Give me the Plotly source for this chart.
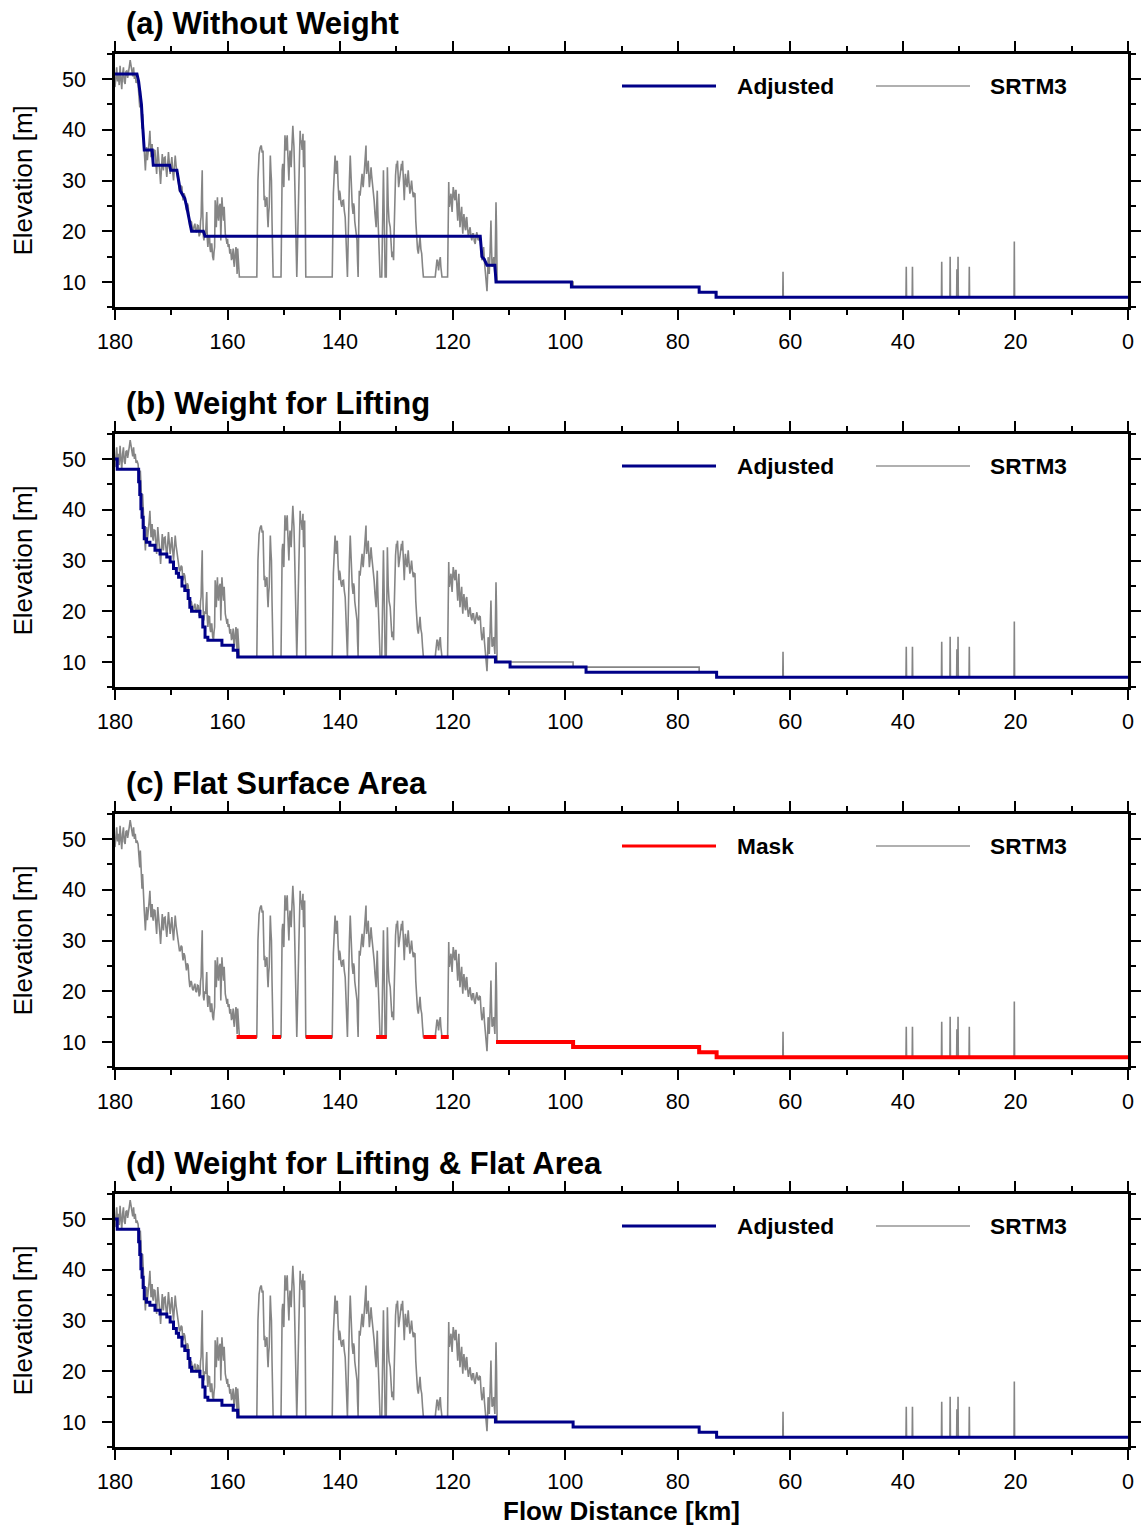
import plotly.graph_objects as go

# ---------------- data ----------------
srtm_km = [
    180.0, 179.85, 179.7, 179.55, 179.4, 179.25, 179.1, 178.95, 178.8, 178.65, 178.5, 178.35, 178.2, 178.05,
    177.9, 177.75, 177.6, 177.45, 177.3, 177.15, 177.0, 176.85, 176.7, 176.55, 176.4, 176.25, 176.1, 175.9,
    175.75, 175.6, 175.5, 175.35, 175.2, 175.1, 174.95, 174.8, 174.6, 174.5, 174.4, 174.25, 174.1, 173.95,
    173.8, 173.7, 173.6, 173.5, 173.4, 173.3, 173.2, 173.05, 172.9, 172.75, 172.6, 172.5, 172.4, 172.25,
    172.1, 172.0, 171.9, 171.75, 171.6, 171.5, 171.4, 171.25, 171.1, 170.95, 170.8, 170.65, 170.5, 170.35,
    170.2, 170.05, 169.9, 169.75, 169.6, 169.45, 169.3, 169.15, 169.0, 168.85, 168.7, 168.55, 168.4, 168.25,
    168.1, 168.0, 167.9, 167.75, 167.6, 167.45, 167.3, 167.15, 167.0, 166.85, 166.7, 166.55, 166.4, 166.25,
    166.1, 165.95, 165.8, 165.65, 165.5, 165.35, 165.2, 165.05, 164.9, 164.8, 164.7, 164.6, 164.5, 164.45,
    164.4, 164.3, 164.2, 164.05, 163.9, 163.8, 163.7, 163.6, 163.5, 163.35, 163.2, 163.1, 163.0, 162.9,
    162.8, 162.65, 162.5, 162.4, 162.3, 162.2, 162.1, 162.0, 161.9, 161.8, 161.7, 161.6, 161.45, 161.3,
    161.2, 161.1, 161.0, 160.85, 160.7, 160.6, 160.5, 160.4, 160.25, 160.1, 160.0, 159.9, 159.75, 159.6,
    159.45, 159.3, 159.15, 159.0, 158.9, 158.8, 158.65, 158.5, 158.4, 158.3, 158.2, 158.1, 158.0, 157.9,
    154.8, 154.6, 154.4, 154.2, 154.0, 153.85, 153.7, 153.6, 153.5, 153.4, 153.3, 153.15, 153.0, 152.9,
    152.8, 152.7, 152.6, 152.5, 152.4, 152.3, 152.2, 152.1, 152.0, 151.9, 150.5, 150.4, 150.3, 150.2,
    150.1, 150.0, 149.9, 149.8, 149.7, 149.6, 149.5, 149.4, 149.25, 149.1, 149.0, 148.9, 148.8, 148.7,
    148.55, 148.4, 148.3, 148.2, 148.1, 148.0, 147.85, 147.7, 147.55, 147.4, 147.25, 147.1, 147.0, 146.9,
    146.75, 146.6, 146.5, 146.4, 146.3, 146.2, 146.1, 141.4, 141.2, 140.9, 140.8, 140.7, 140.6, 140.5,
    140.35, 140.2, 140.1, 140.0, 139.85, 139.7, 139.55, 139.4, 139.25, 139.1, 139.0, 138.9, 138.8, 138.7,
    138.6, 138.5, 138.35, 138.2, 138.1, 138.0, 137.85, 137.7, 137.6, 137.5, 137.4, 137.3, 137.15, 137.0,
    136.9, 136.8, 136.7, 136.6, 136.45, 136.3, 136.2, 136.1, 136.0, 135.9, 135.75, 135.6, 135.5, 135.4,
    135.35, 135.3, 135.15, 135.0, 134.9, 134.8, 134.65, 134.5, 134.4, 134.3, 134.2, 134.1, 133.95, 133.8,
    133.7, 133.6, 133.5, 133.4, 133.25, 133.1, 133.0, 132.9, 132.6, 132.45, 132.3, 132.15, 132.0, 131.8,
    131.7, 131.6, 131.45, 131.3, 131.1, 130.95, 130.8, 130.65, 130.5, 130.4, 130.3, 130.15, 130.0, 129.9,
    129.8, 129.7, 129.6, 129.45, 129.3, 129.2, 129.1, 129.0, 128.9, 128.75, 128.6, 128.5, 128.4, 128.25,
    128.1, 128.0, 127.9, 127.75, 127.6, 127.45, 127.3, 127.15, 127.0, 126.85, 126.7, 126.55, 126.4, 126.25,
    126.1, 125.95, 125.8, 125.65, 125.5, 125.35, 125.2, 123.1, 122.9, 122.8, 122.7, 122.6, 122.5, 122.35,
    122.2, 122.1, 122.0, 121.9, 120.9, 120.7, 120.65, 120.6, 120.45, 120.3, 120.2, 120.1, 120.0, 119.9,
    119.75, 119.6, 119.5, 119.4, 119.25, 119.1, 119.0, 118.9, 118.8, 118.7, 118.55, 118.4, 118.3, 118.2,
    118.1, 118.0, 117.85, 117.7, 117.6, 117.5, 117.35, 117.2, 117.05, 116.9, 116.75, 116.6, 116.45, 116.3,
    116.15, 116.0, 115.85, 115.7, 115.55, 115.4, 115.25, 115.1, 114.95, 114.8, 114.65, 114.5, 114.35, 114.2,
    114.05, 113.9, 113.8, 113.7, 113.6, 113.5, 113.35, 113.2, 113.1, 113.0, 112.85, 112.7, 112.6, 112.5,
    112.4, 112.3, 112.2, 112.1, 98.6, 98.6, 76.2, 76.2, 73.1, 73.1,
    61.35, 61.3, 61.25, 39.45, 39.4, 39.35, 38.35, 38.3, 38.25, 33.15, 33.1, 33.05, 31.65, 31.6, 31.55,
    30.45, 30.4, 30.35, 30.25, 30.2, 30.15, 28.25, 28.2, 28.15, 20.25, 20.2, 20.15, 0.0,
]
srtm_elev = [
    48.4, 50.5, 52.3, 49.5, 51.0, 48.8, 52.6, 50.0, 48.0, 51.0, 52.3, 49.5, 49.0, 51.5,
    51.6, 50.2, 51.0, 52.5, 53.7, 52.0, 51.6, 50.5, 52.3, 50.0, 51.0, 49.2, 49.7, 49.0,
    47.0, 44.4, 47.7, 43.0, 40.2, 43.1, 38.5, 35.9, 32.0, 35.0, 36.6, 34.0, 35.2, 37.5,
    39.8, 35.5, 34.6, 36.0, 37.2, 34.5, 33.9, 36.0, 35.9, 33.5, 31.3, 34.0, 36.6, 34.5,
    33.0, 31.0, 29.3, 32.5, 35.2, 33.0, 32.0, 34.5, 34.6, 32.5, 30.7, 33.0, 35.6, 33.5,
    31.3, 33.0, 34.6, 32.0, 30.0, 32.5, 34.9, 33.0, 32.0, 30.5, 29.3, 28.0, 28.0, 29.0,
    28.7, 27.0, 26.1, 27.5, 27.0, 25.5, 24.1, 25.5, 25.1, 22.5, 20.8, 22.0, 21.8, 20.5,
    20.2, 21.0, 21.5, 20.0, 19.8, 21.2, 21.1, 19.0, 19.5, 22.0, 22.8, 28.0, 32.0, 26.0,
    20.8, 19.0, 18.2, 20.0, 19.5, 22.0, 23.8, 18.5, 16.9, 19.0, 18.9, 16.5, 15.9, 17.5,
    17.5, 15.0, 14.3, 16.0, 16.9, 26.1, 22.0, 20.8, 24.5, 26.7, 23.0, 22.1, 25.0, 25.4,
    18.2, 22.0, 26.7, 24.0, 22.1, 24.8, 21.0, 19.5, 18.5, 17.5, 18.5, 16.9, 17.5, 15.6,
    16.5, 14.3, 15.0, 16.6, 14.0, 13.0, 15.5, 16.9, 14.5, 11.6, 16.6, 14.0, 11.6, 11.0,
    11.0, 30.0, 35.2, 36.5, 36.9, 35.5, 35.9, 30.0, 26.1, 27.0, 24.8, 26.0, 26.7, 23.0,
    20.8, 23.5, 24.8, 30.0, 34.9, 32.0, 30.0, 22.0, 18.2, 11.0, 11.0, 29.3, 32.0, 33.3,
    30.0, 28.7, 34.0, 38.9, 37.0, 35.9, 38.0, 38.9, 34.0, 30.0, 34.0, 35.9, 34.5, 32.6,
    37.0, 40.8, 38.5, 36.6, 32.0, 27.4, 20.0, 11.0, 18.0, 23.4, 33.0, 39.8, 37.5, 37.9,
    36.0, 39.2, 32.6, 35.5, 37.9, 25.0, 11.0, 11.0, 27.4, 34.9, 32.0, 31.3, 33.5, 33.9,
    29.0, 26.1, 28.0, 27.4, 25.5, 24.8, 26.0, 26.1, 24.0, 22.8, 20.0, 18.2, 14.0, 11.0,
    18.0, 24.8, 30.0, 34.9, 30.5, 28.0, 25.0, 23.4, 25.5, 24.8, 22.0, 20.8, 20.0, 18.2,
    14.0, 11.0, 20.0, 28.0, 27.0, 29.3, 30.5, 31.3, 29.5, 28.7, 31.0, 33.3, 35.0, 36.9,
    33.0, 31.3, 32.5, 33.9, 31.0, 28.7, 30.5, 32.6, 31.0, 30.0, 29.0, 28.0, 26.0, 23.4,
    22.0, 20.8, 25.0, 28.0, 22.0, 16.9, 13.0, 11.0, 11.0, 25.0, 32.0, 22.0, 11.0, 11.0,
    25.0, 32.6, 25.0, 22.0, 20.8, 17.5, 14.9, 16.0, 14.3, 20.0, 28.0, 31.0, 33.3, 33.0,
    33.9, 30.5, 28.7, 30.0, 31.3, 32.5, 33.3, 32.0, 33.9, 30.0, 26.1, 29.0, 31.3, 29.5,
    28.7, 30.5, 32.0, 29.5, 27.4, 28.5, 30.0, 28.0, 26.7, 27.5, 27.4, 22.0, 18.2, 16.5,
    15.6, 17.5, 18.9, 16.5, 15.6, 13.0, 11.0, 11.0, 13.6, 14.3, 14.3, 12.5, 12.3, 14.0,
    14.9, 13.0, 11.6, 11.0, 11.0, 29.7, 27.0, 24.8, 26.5, 27.4, 25.0, 23.8, 26.5, 28.7,
    27.0, 26.1, 28.0, 28.0, 25.0, 22.1, 25.0, 27.4, 24.0, 20.8, 23.0, 24.8, 21.5, 19.5,
    22.0, 23.4, 21.0, 20.2, 22.5, 22.8, 20.5, 18.9, 20.0, 20.8, 19.0, 18.2, 19.5, 19.5,
    18.0, 17.5, 19.0, 19.8, 18.5, 18.2, 19.0, 18.9, 16.0, 14.3, 15.0, 16.9, 14.0, 12.3,
    10.0, 8.2, 11.0, 14.9, 13.0, 11.6, 16.0, 22.1, 17.0, 13.0, 13.5, 14.9, 13.0, 11.6,
    18.0, 25.7, 20.0, 10.0, 10.0, 9.0, 9.0, 8.0, 8.0, 7.0,
    7.0, 12.0, 7.0, 7.0, 13.0, 7.0, 7.0, 13.0, 7.0, 7.0, 14.0, 7.0, 7.0, 15.0, 7.0,
    7.0, 12.5, 7.0, 7.0, 15.0, 7.0, 7.0, 13.0, 7.0, 7.0, 18.0, 7.0, 7.0,
]

# (a) adjusted without weight
adj_a_km = [180.0, 176.1, 175.8, 175.5, 175.3, 175.1, 174.8, 173.4, 173.2, 170.3, 170.1, 169.0, 168.7,
            168.4, 167.9, 167.6, 167.2, 166.8, 166.4, 164.3, 164.0, 115.1, 114.8, 114.4, 113.9, 112.5,
            112.3, 98.9, 98.9, 76.2, 76.2, 73.2, 73.2, 0.0]
adj_a_elev = [51.0, 51.0, 49.5, 47.0, 45.0, 41.0, 36.0, 36.0, 33.0, 33.0, 32.0, 32.0, 30.0,
              28.0, 27.0, 26.5, 24.5, 22.0, 20.0, 20.0, 19.0, 19.0, 15.0, 14.5, 13.3, 13.3,
              10.0, 10.0, 9.0, 9.0, 8.0, 8.0, 7.0, 7.0]

# (b) adjusted with weight for lifting (step corners)
adj_b_km = [180.0, 179.6, 175.9, 175.8, 175.6, 175.4, 175.2, 175.0, 174.8, 174.4, 173.8, 172.9, 172.0,
            170.8, 170.2, 169.6, 169.1, 168.7, 168.1, 167.6, 167.0, 166.7, 166.4, 165.2, 164.9, 164.4,
            164.0, 163.5, 161.3, 161.0, 159.3, 159.0, 158.2, 112.4, 109.8, 96.3, 73.1, 0.0]
adj_b_elev = [50.0, 48.0, 48.0, 45.5, 43.0, 40.2, 38.5, 36.5, 34.3, 33.6, 33.0, 32.0, 31.3,
              30.7, 29.7, 28.4, 27.5, 26.7, 25.0, 24.1, 22.5, 20.8, 20.0, 20.0, 18.9, 16.9,
              14.9, 14.3, 14.3, 13.3, 13.3, 12.3, 11.0, 10.0, 9.0, 8.0, 7.0, 7.0]

# (c) flat surface mask (None = gap)
mask_km = [158.4, 154.8, None, 152.1, 150.5, None, 146.1, 141.4, None, 133.6, 131.7, None,
           125.2, 122.9, None, 122.1, 120.7, None,
           112.3, 98.6, 98.6, 76.2, 76.2, 73.1, 73.1, 0.0]
mask_elev = [11.0, 11.0, None, 11.0, 11.0, None, 11.0, 11.0, None, 11.0, 11.0, None,
             11.0, 11.0, None, 11.0, 11.0, None,
             10.0, 10.0, 9.0, 9.0, 8.0, 8.0, 7.0, 7.0]

# (d) adjusted with weight for lifting & flat area (step corners)
adj_d_km = [180.0, 179.6, 175.9, 175.8, 175.6, 175.4, 175.2, 175.0, 174.8, 174.4, 173.8, 172.9, 172.0,
            170.8, 170.2, 169.6, 169.1, 168.7, 168.1, 167.6, 167.0, 166.7, 166.4, 165.2, 164.9, 164.4,
            164.0, 163.5, 161.3, 161.0, 159.3, 159.0, 158.2, 112.4, 98.6, 76.2, 73.1, 0.0]
adj_d_elev = [50.0, 48.0, 48.0, 45.5, 43.0, 40.2, 38.5, 36.5, 34.3, 33.6, 33.0, 32.0, 31.3,
              30.7, 29.7, 28.4, 27.5, 26.7, 25.0, 24.1, 22.5, 20.8, 20.0, 20.0, 18.9, 16.9,
              14.9, 14.3, 14.3, 13.3, 13.3, 12.3, 11.0, 10.0, 9.0, 8.0, 7.0, 7.0]

panel_titles = ["(a) Without Weight", "(b) Weight for Lifting", "(c) Flat Surface Area",
                "(d) Weight for Lifting & Flat Area"]
x_ticks = [180, 160, 140, 120, 100, 80, 60, 40, 20, 0]
y_ticks = [10, 20, 30, 40, 50]

# ---------------- layout ----------------
W, H = 1143, 1526
X0, X1 = 115, 1128
TOPS = [53.6, 433.6, 813.6, 1193.6]
PH = 253.8
FONT = "Liberation Sans, Arial, Helvetica, sans-serif"
NAVY = "#000088"
GRAY = "#858585"
RED = "#ff0000"


def px(x):
    return x / W


def py(y):
    return 1 - y / H


fig = go.Figure()

panel_lines = [
    [(adj_a_km, adj_a_elev, NAVY, 3, "linear")],
    [(adj_b_km, adj_b_elev, NAVY, 3, "hv")],
    [(mask_km, mask_elev, RED, 4, "linear")],
    [(adj_d_km, adj_d_elev, NAVY, 3, "hv")],
]
legend_names = ["Adjusted", "Adjusted", "Mask", "Adjusted"]
legend_colors = [NAVY, NAVY, RED, NAVY]

annotations = []
shapes = []
for i in range(4):
    n = "" if i == 0 else str(i + 1)
    xa, ya = "x" + n, "y" + n
    fig.add_trace(go.Scatter(x=srtm_km, y=srtm_elev, mode="lines",
                             line=dict(color=GRAY, width=1.6), xaxis=xa, yaxis=ya,
                             showlegend=False, hoverinfo="skip"))
    for (xs, ys, c, w, shp) in panel_lines[i]:
        fig.add_trace(go.Scatter(x=xs, y=ys, mode="lines", line=dict(color=c, width=w, shape=shp),
                                 xaxis=xa, yaxis=ya, showlegend=False, connectgaps=False,
                                 hoverinfo="skip"))
    top = TOPS[i]
    bot = top + PH
    axis_common = dict(showgrid=False, zeroline=False, showline=True, linecolor="black",
                       mirror="ticks", ticks="outside", tickcolor="black", automargin=False,
                       tickfont=dict(family=FONT, size=21.6, color="black"))
    fig.layout["xaxis" + n] = dict(
        axis_common, domain=[px(X0), px(X1)], range=[180, 0], anchor=ya,
        tickvals=x_ticks, ticktext=[str(v) for v in x_ticks], ticklen=10, tickwidth=2,
        linewidth=3, ticklabelstandoff=3,
        minor=dict(dtick=10, tick0=0, ticklen=5, tickwidth=1.5, ticks="outside", tickcolor="black"))
    fig.layout["yaxis" + n] = dict(
        axis_common, domain=[py(bot), py(top)], range=[5, 55], anchor=xa,
        tickvals=y_ticks, ticklen=10, tickwidth=2, linewidth=2.5, ticklabelstandoff=12,
        minor=dict(dtick=5, tick0=0, ticklen=5, tickwidth=1.5, ticks="outside", tickcolor="black"))

    # panel title
    annotations.append(dict(text="<b>" + panel_titles[i] + "</b>", x=px(124), y=py(top - 30),
                            xref="paper", yref="paper", xanchor="left", yanchor="middle",
                            showarrow=False, font=dict(family=FONT, size=31, color="black")))
    # y-axis title
    annotations.append(dict(text="Elevation [m]", x=px(22), y=py(top + PH / 2), xref="paper",
                            yref="paper", xanchor="center", yanchor="middle", textangle=-90,
                            showarrow=False, font=dict(family=FONT, size=26, color="black")))
    # legend
    ly = top + 32.4
    shapes.append(dict(type="line", xref="paper", yref="paper", x0=px(622), x1=px(716),
                       y0=py(ly), y1=py(ly), line=dict(color=legend_colors[i], width=3)))
    shapes.append(dict(type="line", xref="paper", yref="paper", x0=px(876), x1=px(970),
                       y0=py(ly), y1=py(ly), line=dict(color="#b0b0b0", width=2)))
    annotations.append(dict(text="<b>" + legend_names[i] + "</b>", x=px(735), y=py(ly),
                            xref="paper", yref="paper", xanchor="left", yanchor="middle",
                            showarrow=False, font=dict(family=FONT, size=22.7, color="black")))
    annotations.append(dict(text="<b>SRTM3</b>", x=px(988), y=py(ly), xref="paper", yref="paper",
                            xanchor="left", yanchor="middle", showarrow=False,
                            font=dict(family=FONT, size=22.7, color="black")))

annotations.append(dict(text="<b>Flow Distance [km]</b>", x=px(621), y=py(1511), xref="paper",
                        yref="paper", xanchor="center", yanchor="middle", showarrow=False,
                        font=dict(family=FONT, size=26, color="black")))

fig.update_layout(width=W, height=H, margin=dict(l=0, r=0, t=0, b=0, pad=0),
                  paper_bgcolor="white", plot_bgcolor="white", showlegend=False,
                  annotations=annotations, shapes=shapes,
                  font=dict(family=FONT, color="black"))

fig.write_html("out.html", config={"displayModeBar": False},
               post_script="document.body.style.margin='0px';")
